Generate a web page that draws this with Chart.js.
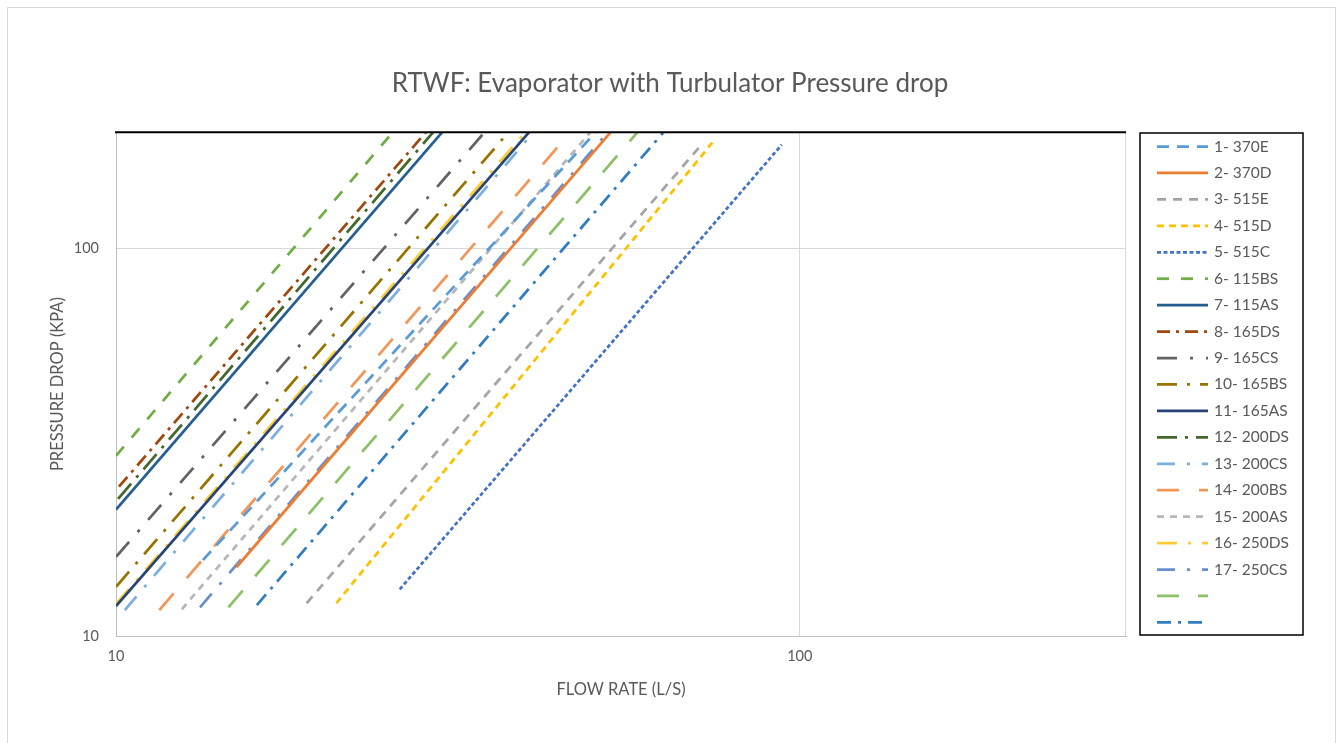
<!DOCTYPE html>
<html>
<head>
<meta charset="utf-8">
<title>RTWF: Evaporator with Turbulator Pressure drop</title>
<script src="https://cdn.jsdelivr.net/npm/chart.js@4/dist/chart.umd.min.js"></script>
<style>
  html, body { margin: 0; padding: 0; background: #fff; }
  #wrap { position: relative; width: 1336px; height: 743px; }
</style>
</head>
<body>
<div id="wrap"><canvas id="chart"></canvas></div>
<script>
'use strict';

// Series names as shown in the legend (last two are unnamed)
const seriesNames = [
  '1- 370E', '2- 370D', '3- 515E', '4- 515D', '5- 515C', '6- 115BS', '7- 115AS',
  '8- 165DS', '9- 165CS', '10- 165BS', '11- 165AS', '12- 200DS', '13- 200CS',
  '14- 200BS', '15- 200AS', '16- 250DS', '17- 250CS', '', ''
];

// Flow rate (L/s) at first and last point of each curve
const flowStart = [13.4, 15.0, 19.0, 21.0, 26.0, 10.0, 10.0, 10.1, 10.0, 10.0, 10.0, 10.07, 10.3, 11.57, 12.48, 10.0, 13.27, 14.6, 16.07];
const flowEnd   = [50.3, 52.9, 72.0, 74.5, 94.1, 25.4, 30.0, 28.4, 34.6, 37.5, 40.2, 29.1, 40.8, 46.2, 49.4, 39.7, 52.4, 57.9, 63.2];

// Pressure drop (kPa) at first and last point of each curve
const dropStart = [15.7, 15.05, 12.15, 12.15, 13.2, 29.2, 21.2, 24.3, 16.0, 13.4, 11.95, 22.6, 11.67, 11.67, 11.72, 12.1, 11.86, 11.86, 12.02];
const dropEnd   = [200, 200, 186.7, 188, 185.6, 200, 200, 200, 200, 200, 200, 200, 200, 200, 200, 200, 200, 200, 200];

const xTicks = [10, 100];
const yTicks = [10, 100];

const colors = [
  '#5B9BD5', '#ED7D31', '#A5A5A5', '#FFC000', '#4472C4', '#70AD47', '#255E91',
  '#9E480E', '#636363', '#997300', '#264478', '#43682B', '#7CAFDD', '#F1975A',
  '#B7B7B7', '#FFCD33', '#698ED0', '#8CC168', '#327DC2'
];
const dashes = [
  [12, 8], [], [9, 7], [7, 5], [4, 2.5], [12, 12], [],
  [13, 6, 3, 6], [20, 13, 3, 13], [20, 10, 3, 10], [], [20, 8, 3, 8], [18, 12, 3, 12],
  [22, 20], [7, 6], [20, 11, 3, 11], [18, 12, 3, 12], [22, 19], [14, 7, 3, 7]
];

const datasets = seriesNames.map((name, i) => ({
  label: name,
  data: [{ x: flowStart[i], y: dropStart[i] }, { x: flowEnd[i], y: dropEnd[i] }],
  borderColor: colors[i],
  backgroundColor: colors[i],
  borderWidth: 2.75,
  borderDash: dashes[i],
  pointRadius: 0,
  tension: 0,
  fill: false,
}));

const FONT = 'Lato, "Open Sans", sans-serif';
const GREY = '#595959';

// frame round the whole chart + top/right plot edges
const framePlugin = {
  id: 'frame',
  beforeDraw(chart) {
    const c = chart.ctx;
    c.save();
    c.fillStyle = '#fff';
    c.fillRect(0, 0, chart.width, chart.height);
    c.strokeStyle = '#d9d9d9';
    c.lineWidth = 1;
    c.strokeRect(7.5, 7.5, 1328, 760);
    c.restore();
  },
  afterDatasetsDraw(chart) {
    const a = chart.chartArea;
    const c = chart.ctx;
    c.save();
    c.strokeStyle = '#d9d9d9';
    c.lineWidth = 1;
    c.beginPath();
    c.moveTo(a.right - 0.5, a.top);
    c.lineTo(a.right - 0.5, a.bottom);
    c.stroke();
    c.strokeStyle = '#000';
    c.lineWidth = 2;
    c.beginPath();
    c.moveTo(a.left - 1, a.top);
    c.lineTo(a.right, a.top);
    c.stroke();
    c.restore();
  }
};

// Excel-style legend: bordered box with line samples
const legendPlugin = {
  id: 'lineLegend',
  afterDraw(chart) {
    const c = chart.ctx;
    const box = { x: 1140, y: 133, w: 163, h: 502 };
    c.save();
    c.strokeStyle = '#000';
    c.lineWidth = 1.5;
    c.strokeRect(box.x, box.y, box.w, box.h);
    c.font = '15.5px ' + FONT;
    c.fillStyle = GREY;
    c.textBaseline = 'middle';
    chart.data.datasets.forEach((ds, i) => {
      const y = box.y + 13.5 + i * 26.44;
      c.strokeStyle = ds.borderColor;
      c.lineWidth = ds.borderWidth;
      c.setLineDash(ds.borderDash);
      c.beginPath();
      c.moveTo(box.x + 17, y);
      c.lineTo(box.x + 68, y);
      c.stroke();
      c.setLineDash([]);
      c.fillText(ds.label, box.x + 74, y);
    });
    c.restore();
  }
};

new Chart(document.getElementById('chart'), {
  type: 'line',
  data: { datasets },
  options: {
    animation: false,
    responsive: true,
    maintainAspectRatio: false,
    layout: { padding: { left: 45, right: 41, top: 0, bottom: 41 } },
    plugins: {
      legend: { display: false },
      tooltip: { enabled: false },
      title: {
        display: true,
        text: 'RTWF: Evaporator with Turbulator Pressure drop',
        color: GREY,
        font: { family: FONT, size: 26, weight: 'normal' },
        padding: { top: 68, bottom: 33 },
      },
    },
    scales: {
      x: {
        type: 'logarithmic',
        min: 10,
        max: 300,
        afterBuildTicks: (s) => { s.ticks = xTicks.map((v) => ({ value: v })); },
        afterFit: (s) => { s.height = 66; },
        ticks: { color: GREY, font: { family: FONT, size: 14.5 }, padding: 12, callback: (v) => String(v), maxRotation: 0 },
        grid: { color: '#d9d9d9', drawTicks: false },
        border: { color: '#bfbfbf', width: 1 },
        title: { display: true, text: 'FLOW RATE (L/S)', color: GREY, font: { family: FONT, size: 16.5 }, padding: { top: 4, bottom: 2 } },
      },
      y: {
        type: 'logarithmic',
        min: 10,
        max: 200,
        afterBuildTicks: (s) => { s.ticks = yTicks.map((v) => ({ value: v })); },
        afterFit: (s) => { s.width = 71; },
        ticks: { color: GREY, font: { family: FONT, size: 14.5 }, padding: 17, callback: (v) => String(v) },
        grid: { color: '#d9d9d9', drawTicks: false },
        border: { color: '#bfbfbf', width: 1 },
        title: { display: true, text: 'PRESSURE DROP (KPA)', color: GREY, font: { family: FONT, size: 16.5 }, padding: { top: 3, bottom: 4 } },
      },
      // empty right-hand axis that only reserves the room the legend box sits in
      legendRoom: {
        type: 'linear',
        position: 'right',
        afterFit: (s) => { s.width = 169; },
        ticks: { display: false },
        grid: { display: false },
        border: { display: false },
      },
    },
  },
  plugins: [framePlugin, legendPlugin],
});
</script>
</body>
</html>
